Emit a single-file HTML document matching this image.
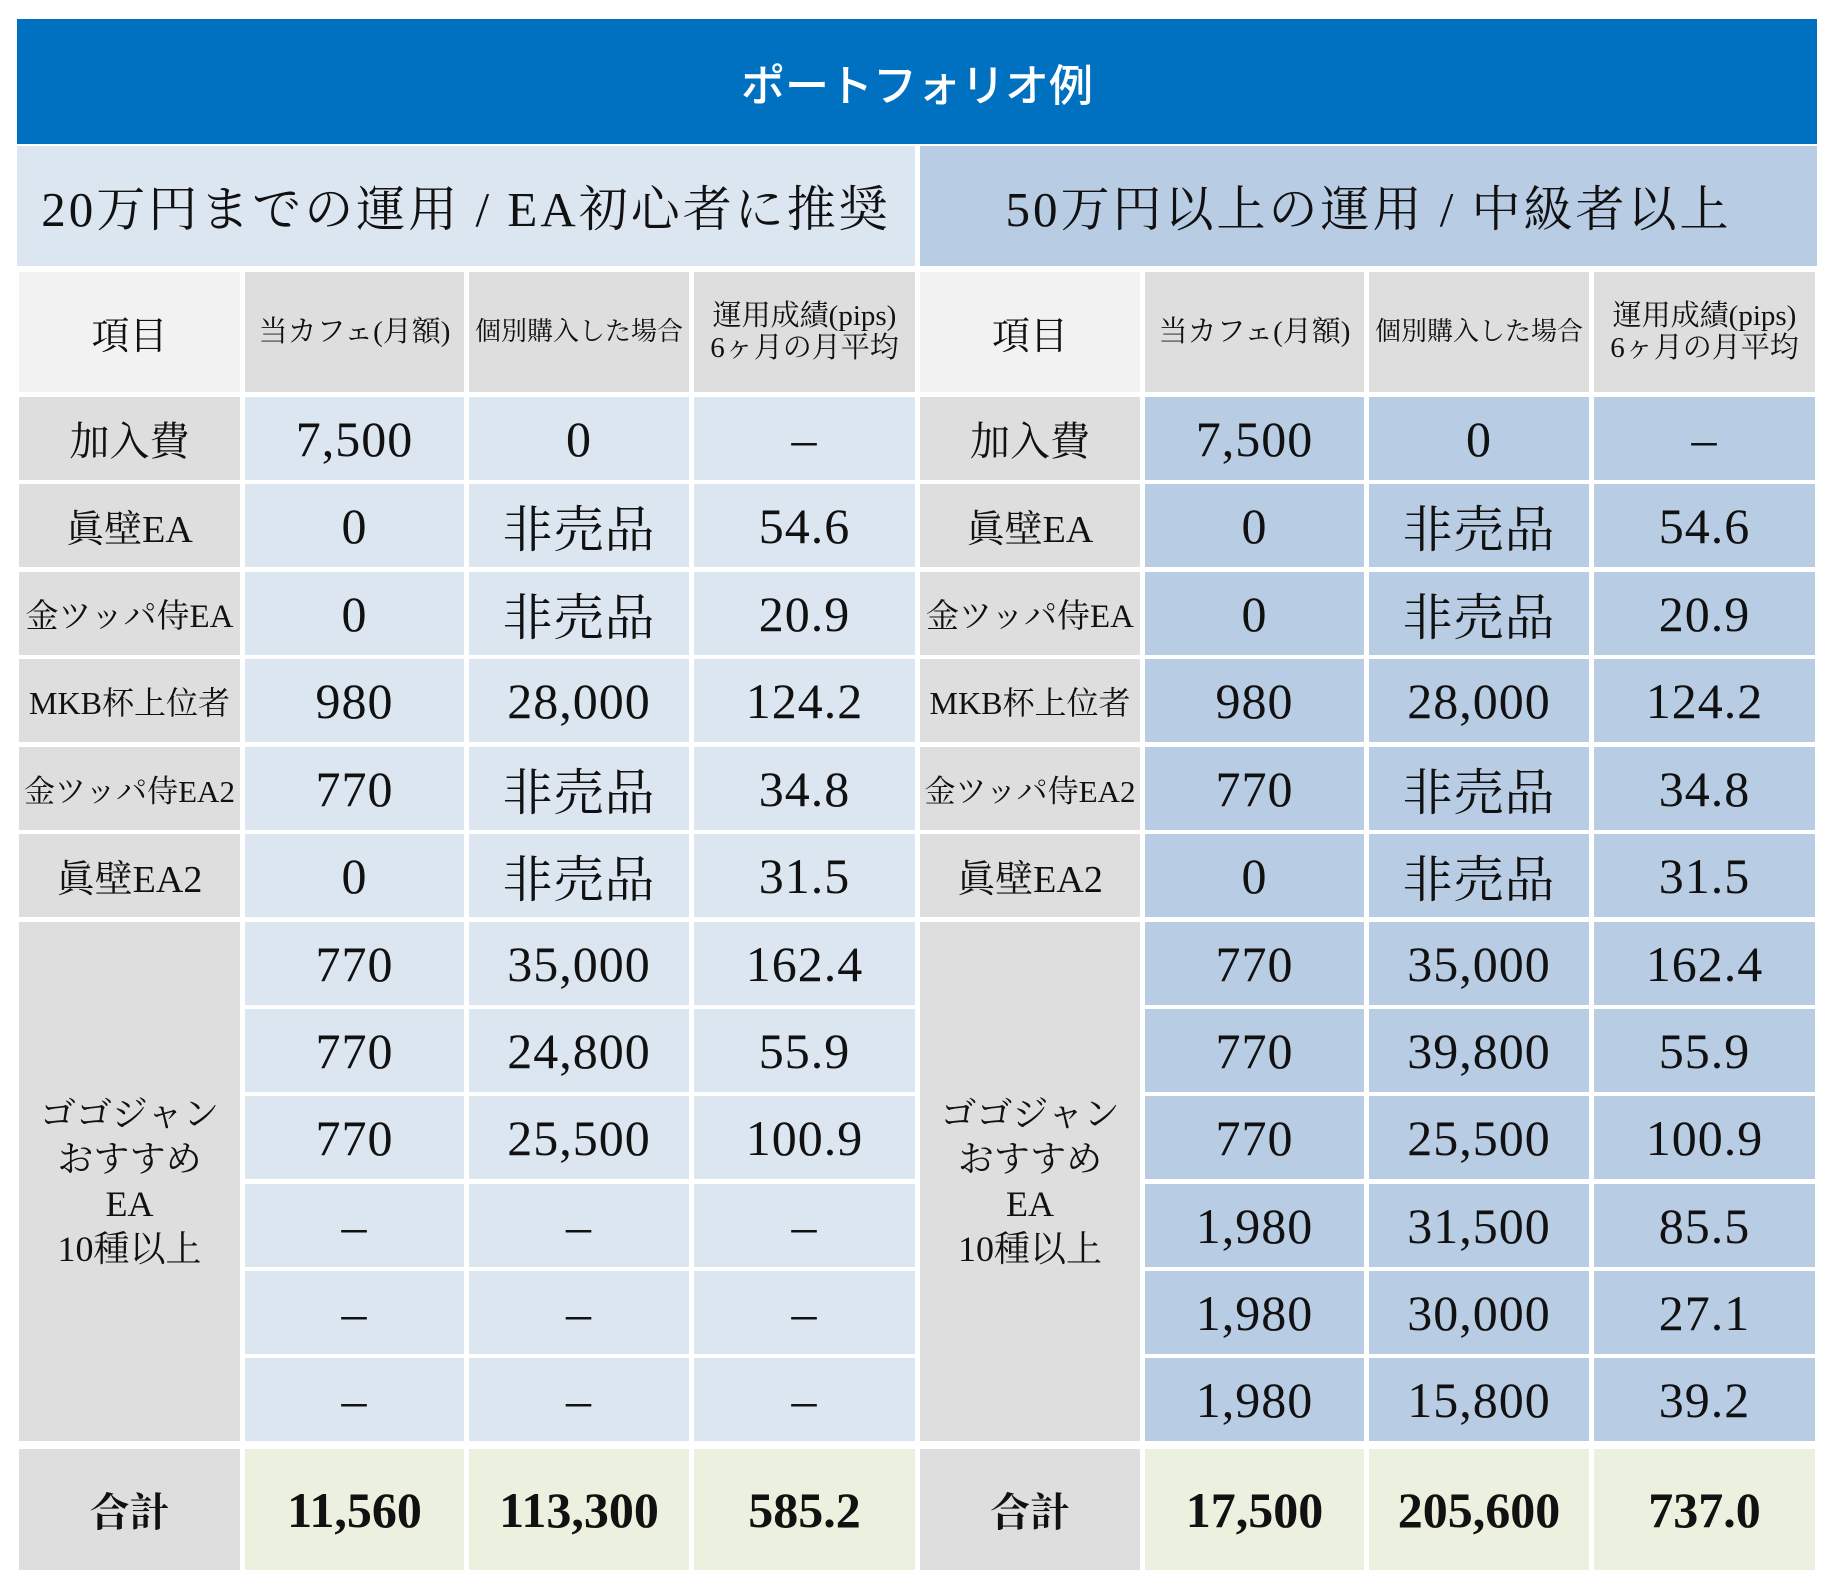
<!DOCTYPE html>
<html><head><meta charset="utf-8"><style>
body{margin:0;width:1827px;height:1587px;background:#fff;position:relative;overflow:hidden;font-family:"Liberation Serif","Noto Serif CJK SC","Noto Serif CJK JP",serif;color:#111}
.c{position:absolute;display:flex;align-items:center;justify-content:center;text-align:center;box-sizing:border-box}
.L{background:#dce6f1}.R{background:#b8cce4}.G{background:#dedede}.W{background:#f2f2f2}.T{background:#ebf1de}
.n{font-size:50px;letter-spacing:1px}.lb{font-size:40px}.sm{font-size:33px}.h{font-size:28px;line-height:32px}
.b{font-weight:bold;font-size:50px}
</style></head><body>
<div class="c" style="left:17px;top:19px;width:1800px;height:125px;background:#0070c0;color:#fff;font-family:'Liberation Sans','Noto Sans CJK JP',sans-serif;font-size:44px;font-weight:500">ポートフォリオ例</div>
<div class="c L" style="left:17px;top:146px;width:898px;height:120px;font-size:49px;letter-spacing:3px">20万円までの運用 / EA初心者に推奨</div>
<div class="c R" style="left:920px;top:146px;width:897px;height:120px;font-size:49px;letter-spacing:3px">50万円以上の運用 / 中級者以上</div>

<div class="c W lb" style="left:19px;top:272px;width:221px;height:120px;font-size:38px">項目</div>
<div class="c G h" style="left:245px;top:272px;width:219px;height:120px;font-size:29px">当カフェ(月額)</div>
<div class="c G h" style="left:469px;top:272px;width:220px;height:120px;font-size:26px">個別購入した場合</div>
<div class="c G h" style="left:694px;top:272px;width:221px;height:120px;font-size:29px">運用成績(pips)<br>6ヶ月の月平均</div>
<div class="c W lb" style="left:920px;top:272px;width:220px;height:120px;font-size:38px">項目</div>
<div class="c G h" style="left:1145px;top:272px;width:219px;height:120px;font-size:29px">当カフェ(月額)</div>
<div class="c G h" style="left:1369px;top:272px;width:220px;height:120px;font-size:26px">個別購入した場合</div>
<div class="c G h" style="left:1594px;top:272px;width:221px;height:120px;font-size:29px">運用成績(pips)<br>6ヶ月の月平均</div>

<div class="c G lb" style="left:19px;top:397px;width:221px;height:83px">加入費</div>
<div class="c L n" style="left:245px;top:397px;width:219px;height:83px">7,500</div>
<div class="c L n" style="left:469px;top:397px;width:220px;height:83px">0</div>
<div class="c L n" style="left:694px;top:397px;width:221px;height:83px">–</div>
<div class="c G lb" style="left:920px;top:397px;width:220px;height:83px">加入費</div>
<div class="c R n" style="left:1145px;top:397px;width:219px;height:83px">7,500</div>
<div class="c R n" style="left:1369px;top:397px;width:220px;height:83px">0</div>
<div class="c R n" style="left:1594px;top:397px;width:221px;height:83px">–</div>

<div class="c G lb" style="left:19px;top:484px;width:221px;height:83px;font-size:38px">眞壁EA</div>
<div class="c L n" style="left:245px;top:484px;width:219px;height:83px">0</div>
<div class="c L n" style="left:469px;top:484px;width:220px;height:83px">非売品</div>
<div class="c L n" style="left:694px;top:484px;width:221px;height:83px">54.6</div>
<div class="c G lb" style="left:920px;top:484px;width:220px;height:83px;font-size:38px">眞壁EA</div>
<div class="c R n" style="left:1145px;top:484px;width:219px;height:83px">0</div>
<div class="c R n" style="left:1369px;top:484px;width:220px;height:83px">非売品</div>
<div class="c R n" style="left:1594px;top:484px;width:221px;height:83px">54.6</div>

<div class="c G sm" style="left:19px;top:572px;width:221px;height:83px">金ツッパ侍EA</div>
<div class="c L n" style="left:245px;top:572px;width:219px;height:83px">0</div>
<div class="c L n" style="left:469px;top:572px;width:220px;height:83px">非売品</div>
<div class="c L n" style="left:694px;top:572px;width:221px;height:83px">20.9</div>
<div class="c G sm" style="left:920px;top:572px;width:220px;height:83px">金ツッパ侍EA</div>
<div class="c R n" style="left:1145px;top:572px;width:219px;height:83px">0</div>
<div class="c R n" style="left:1369px;top:572px;width:220px;height:83px">非売品</div>
<div class="c R n" style="left:1594px;top:572px;width:221px;height:83px">20.9</div>

<div class="c G sm" style="left:19px;top:659px;width:221px;height:83px;font-size:32px">MKB杯上位者</div>
<div class="c L n" style="left:245px;top:659px;width:219px;height:83px">980</div>
<div class="c L n" style="left:469px;top:659px;width:220px;height:83px">28,000</div>
<div class="c L n" style="left:694px;top:659px;width:221px;height:83px">124.2</div>
<div class="c G sm" style="left:920px;top:659px;width:220px;height:83px;font-size:32px">MKB杯上位者</div>
<div class="c R n" style="left:1145px;top:659px;width:219px;height:83px">980</div>
<div class="c R n" style="left:1369px;top:659px;width:220px;height:83px">28,000</div>
<div class="c R n" style="left:1594px;top:659px;width:221px;height:83px">124.2</div>

<div class="c G sm" style="left:19px;top:747px;width:221px;height:83px;font-size:31px">金ツッパ侍EA2</div>
<div class="c L n" style="left:245px;top:747px;width:219px;height:83px">770</div>
<div class="c L n" style="left:469px;top:747px;width:220px;height:83px">非売品</div>
<div class="c L n" style="left:694px;top:747px;width:221px;height:83px">34.8</div>
<div class="c G sm" style="left:920px;top:747px;width:220px;height:83px;font-size:31px">金ツッパ侍EA2</div>
<div class="c R n" style="left:1145px;top:747px;width:219px;height:83px">770</div>
<div class="c R n" style="left:1369px;top:747px;width:220px;height:83px">非売品</div>
<div class="c R n" style="left:1594px;top:747px;width:221px;height:83px">34.8</div>

<div class="c G lb" style="left:19px;top:834px;width:221px;height:83px;font-size:38px">眞壁EA2</div>
<div class="c L n" style="left:245px;top:834px;width:219px;height:83px">0</div>
<div class="c L n" style="left:469px;top:834px;width:220px;height:83px">非売品</div>
<div class="c L n" style="left:694px;top:834px;width:221px;height:83px">31.5</div>
<div class="c G lb" style="left:920px;top:834px;width:220px;height:83px;font-size:38px">眞壁EA2</div>
<div class="c R n" style="left:1145px;top:834px;width:219px;height:83px">0</div>
<div class="c R n" style="left:1369px;top:834px;width:220px;height:83px">非売品</div>
<div class="c R n" style="left:1594px;top:834px;width:221px;height:83px">31.5</div>

<div class="c G" style="left:19px;top:922px;width:221px;height:519px;font-size:36px;line-height:45px">ゴゴジャン<br>おすすめ<br>EA<br>10種以上</div>
<div class="c G" style="left:920px;top:922px;width:220px;height:519px;font-size:36px;line-height:45px">ゴゴジャン<br>おすすめ<br>EA<br>10種以上</div>

<div class="c L n" style="left:245px;top:922px;width:219px;height:83px">770</div>
<div class="c L n" style="left:469px;top:922px;width:220px;height:83px">35,000</div>
<div class="c L n" style="left:694px;top:922px;width:221px;height:83px">162.4</div>
<div class="c R n" style="left:1145px;top:922px;width:219px;height:83px">770</div>
<div class="c R n" style="left:1369px;top:922px;width:220px;height:83px">35,000</div>
<div class="c R n" style="left:1594px;top:922px;width:221px;height:83px">162.4</div>

<div class="c L n" style="left:245px;top:1009px;width:219px;height:83px">770</div>
<div class="c L n" style="left:469px;top:1009px;width:220px;height:83px">24,800</div>
<div class="c L n" style="left:694px;top:1009px;width:221px;height:83px">55.9</div>
<div class="c R n" style="left:1145px;top:1009px;width:219px;height:83px">770</div>
<div class="c R n" style="left:1369px;top:1009px;width:220px;height:83px">39,800</div>
<div class="c R n" style="left:1594px;top:1009px;width:221px;height:83px">55.9</div>

<div class="c L n" style="left:245px;top:1096px;width:219px;height:83px">770</div>
<div class="c L n" style="left:469px;top:1096px;width:220px;height:83px">25,500</div>
<div class="c L n" style="left:694px;top:1096px;width:221px;height:83px">100.9</div>
<div class="c R n" style="left:1145px;top:1096px;width:219px;height:83px">770</div>
<div class="c R n" style="left:1369px;top:1096px;width:220px;height:83px">25,500</div>
<div class="c R n" style="left:1594px;top:1096px;width:221px;height:83px">100.9</div>

<div class="c L n" style="left:245px;top:1184px;width:219px;height:83px">–</div>
<div class="c L n" style="left:469px;top:1184px;width:220px;height:83px">–</div>
<div class="c L n" style="left:694px;top:1184px;width:221px;height:83px">–</div>
<div class="c R n" style="left:1145px;top:1184px;width:219px;height:83px">1,980</div>
<div class="c R n" style="left:1369px;top:1184px;width:220px;height:83px">31,500</div>
<div class="c R n" style="left:1594px;top:1184px;width:221px;height:83px">85.5</div>

<div class="c L n" style="left:245px;top:1271px;width:219px;height:83px">–</div>
<div class="c L n" style="left:469px;top:1271px;width:220px;height:83px">–</div>
<div class="c L n" style="left:694px;top:1271px;width:221px;height:83px">–</div>
<div class="c R n" style="left:1145px;top:1271px;width:219px;height:83px">1,980</div>
<div class="c R n" style="left:1369px;top:1271px;width:220px;height:83px">30,000</div>
<div class="c R n" style="left:1594px;top:1271px;width:221px;height:83px">27.1</div>

<div class="c L n" style="left:245px;top:1358px;width:219px;height:83px">–</div>
<div class="c L n" style="left:469px;top:1358px;width:220px;height:83px">–</div>
<div class="c L n" style="left:694px;top:1358px;width:221px;height:83px">–</div>
<div class="c R n" style="left:1145px;top:1358px;width:219px;height:83px">1,980</div>
<div class="c R n" style="left:1369px;top:1358px;width:220px;height:83px">15,800</div>
<div class="c R n" style="left:1594px;top:1358px;width:221px;height:83px">39.2</div>

<div class="c G" style="left:19px;top:1449px;width:221px;height:121px;font-size:40px;font-weight:bold">合計</div>
<div class="c T b" style="left:245px;top:1449px;width:219px;height:121px">11,560</div>
<div class="c T b" style="left:469px;top:1449px;width:220px;height:121px">113,300</div>
<div class="c T b" style="left:694px;top:1449px;width:221px;height:121px">585.2</div>
<div class="c G" style="left:920px;top:1449px;width:220px;height:121px;font-size:40px;font-weight:bold">合計</div>
<div class="c T b" style="left:1145px;top:1449px;width:219px;height:121px">17,500</div>
<div class="c T b" style="left:1369px;top:1449px;width:220px;height:121px">205,600</div>
<div class="c T b" style="left:1594px;top:1449px;width:221px;height:121px">737.0</div>
</body></html>
